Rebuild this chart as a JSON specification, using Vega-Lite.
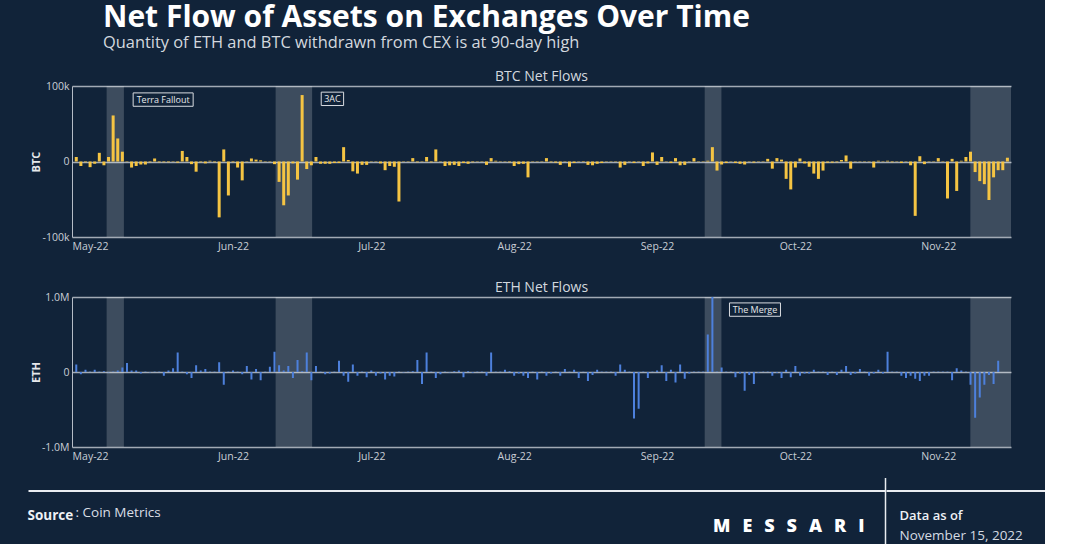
{
"$schema": "https://vega.github.io/schema/vega-lite/v6.json",
"background": "#112339",
"padding": {"left": 27, "top": 3, "right": 0, "bottom": 0},
"config": {
  "font": "Open Sans",
  "view": {"stroke": null},
  "scale": {"continuousPadding": 0},
  "axis": {"labelFont": "Open Sans", "titleFont": "Open Sans", "ticks": false},
  "title": {"font": "Open Sans", "subtitleFont": "Open Sans"}
},
"title": {
  "text": "Net Flow of Assets on Exchanges Over Time",
  "subtitle": "Quantity of ETH and BTC withdrawn from CEX is at 90-day high",
  "anchor": "start", "frame": "group", "dx": 75, "offset": 18.5,
  "fontSize": 30, "fontWeight": "bold", "color": "#ffffff",
  "subtitleFontSize": 16.4, "subtitleColor": "#d3d8df", "subtitleFontWeight": "normal", "subtitlePadding": 2
},
"datasets": {
  "events": [
    {"event": "Terra Fallout", "start": "2022-05-04T14:00:00Z", "end": "2022-05-08T08:00:00Z"},
    {"event": "3AC", "start": "2022-06-10T06:00:00Z", "end": "2022-06-18T04:00:00Z"},
    {"event": "The Merge", "start": "2022-09-11T08:00:00Z", "end": "2022-09-14T23:00:00Z"},
    {"event": "FTX Collapse", "start": "2022-11-07T23:00:00Z", "end": "2022-11-16T18:43:00Z"}
  ],
  "btcNotes": [
    {"label": "Terra Fallout", "date": "2022-05-16T20:24:00Z", "flow": 82000},
    {"label": "3AC", "date": "2022-06-22T13:40:00Z", "flow": 83000}
  ],
  "ethNotes": [
    {"label": "The Merge", "date": "2022-09-22T05:45:00Z", "flow": 832000}
  ],
  "btc": [
    {"date":"2022-04-28","flow":6000},{"date":"2022-04-29","flow":-6000},{"date":"2022-04-30","flow":-1000},
    {"date":"2022-05-01","flow":-7500},{"date":"2022-05-02","flow":-3000},{"date":"2022-05-03","flow":11500},{"date":"2022-05-04","flow":-5000},{"date":"2022-05-05","flow":6000},{"date":"2022-05-06","flow":61000},{"date":"2022-05-07","flow":30500},{"date":"2022-05-08","flow":13000},{"date":"2022-05-09","flow":500},{"date":"2022-05-10","flow":-8000},
    {"date":"2022-05-11","flow":-6000},{"date":"2022-05-12","flow":-4000},{"date":"2022-05-13","flow":-4000},{"date":"2022-05-14","flow":-1000},{"date":"2022-05-15","flow":4000},{"date":"2022-05-16","flow":-1000},{"date":"2022-05-17","flow":-1000},{"date":"2022-05-18","flow":-1000},{"date":"2022-05-19","flow":-500},{"date":"2022-05-20","flow":-1500},
    {"date":"2022-05-21","flow":14000},{"date":"2022-05-22","flow":6000},{"date":"2022-05-23","flow":-3500},{"date":"2022-05-24","flow":-13500},{"date":"2022-05-25","flow":-1000},{"date":"2022-05-26","flow":-2500},{"date":"2022-05-27","flow":1000},{"date":"2022-05-28","flow":-1000},{"date":"2022-05-29","flow":-74000},{"date":"2022-05-30","flow":16000},{"date":"2022-05-31","flow":-45000},
    {"date":"2022-06-01","flow":-1000},{"date":"2022-06-02","flow":-8000},{"date":"2022-06-03","flow":-25000},{"date":"2022-06-04","flow":-500},{"date":"2022-06-05","flow":4000},{"date":"2022-06-06","flow":2500},{"date":"2022-06-07","flow":1500},{"date":"2022-06-08","flow":-500},{"date":"2022-06-09","flow":-500},{"date":"2022-06-10","flow":-3500},
    {"date":"2022-06-11","flow":-27000},{"date":"2022-06-12","flow":-58000},{"date":"2022-06-13","flow":-45000},{"date":"2022-06-14","flow":-2500},{"date":"2022-06-15","flow":-24000},{"date":"2022-06-16","flow":88000},{"date":"2022-06-17","flow":-10000},{"date":"2022-06-18","flow":-5000},{"date":"2022-06-19","flow":6000},{"date":"2022-06-20","flow":-3000},
    {"date":"2022-06-21","flow":-3000},{"date":"2022-06-22","flow":-3000},{"date":"2022-06-23","flow":-2000},{"date":"2022-06-24","flow":-2000},{"date":"2022-06-25","flow":19000},{"date":"2022-06-26","flow":2000},{"date":"2022-06-27","flow":-13000},{"date":"2022-06-28","flow":-16000},{"date":"2022-06-29","flow":-4500},{"date":"2022-06-30","flow":-4500},
    {"date":"2022-07-01","flow":500},{"date":"2022-07-02","flow":-500},{"date":"2022-07-03","flow":-2500},{"date":"2022-07-04","flow":-11500},{"date":"2022-07-05","flow":-6000},{"date":"2022-07-06","flow":-7000},{"date":"2022-07-07","flow":-53000},{"date":"2022-07-08","flow":-500},{"date":"2022-07-09","flow":500},{"date":"2022-07-10","flow":4500},
    {"date":"2022-07-11","flow":-1000},{"date":"2022-07-12","flow":500},{"date":"2022-07-13","flow":6000},{"date":"2022-07-14","flow":-1000},{"date":"2022-07-15","flow":16000},{"date":"2022-07-16","flow":500},{"date":"2022-07-17","flow":-6000},{"date":"2022-07-18","flow":-5000},{"date":"2022-07-19","flow":-4500},{"date":"2022-07-20","flow":-6000},
    {"date":"2022-07-21","flow":-2000},{"date":"2022-07-22","flow":-3000},{"date":"2022-07-23","flow":-1000},{"date":"2022-07-24","flow":500},{"date":"2022-07-25","flow":-500},{"date":"2022-07-26","flow":-4500},{"date":"2022-07-27","flow":4500},{"date":"2022-07-28","flow":1000},{"date":"2022-07-29","flow":500},{"date":"2022-07-30","flow":-500},{"date":"2022-07-31","flow":-1000},
    {"date":"2022-08-01","flow":-6000},{"date":"2022-08-02","flow":-3500},{"date":"2022-08-03","flow":-3000},{"date":"2022-08-04","flow":-21000},{"date":"2022-08-05","flow":-500},{"date":"2022-08-06","flow":500},{"date":"2022-08-07","flow":500},{"date":"2022-08-08","flow":4500},{"date":"2022-08-09","flow":-1000},{"date":"2022-08-10","flow":-1500},
    {"date":"2022-08-11","flow":-4500},{"date":"2022-08-12","flow":500},{"date":"2022-08-13","flow":-7000},{"date":"2022-08-14","flow":-2000},{"date":"2022-08-15","flow":500},{"date":"2022-08-16","flow":-500},{"date":"2022-08-17","flow":-4500},{"date":"2022-08-18","flow":-5000},{"date":"2022-08-19","flow":-3000},{"date":"2022-08-20","flow":-2000},
    {"date":"2022-08-21","flow":500},{"date":"2022-08-22","flow":-500},{"date":"2022-08-23","flow":500},{"date":"2022-08-24","flow":-8000},{"date":"2022-08-25","flow":-4500},{"date":"2022-08-26","flow":500},{"date":"2022-08-27","flow":-2000},{"date":"2022-08-28","flow":500},{"date":"2022-08-29","flow":-6000},{"date":"2022-08-30","flow":-2500},{"date":"2022-08-31","flow":12000},
    {"date":"2022-09-01","flow":-4500},{"date":"2022-09-02","flow":6000},{"date":"2022-09-03","flow":500},{"date":"2022-09-04","flow":-2000},{"date":"2022-09-05","flow":4500},{"date":"2022-09-06","flow":-5000},{"date":"2022-09-07","flow":-4500},{"date":"2022-09-08","flow":500},{"date":"2022-09-09","flow":4500},{"date":"2022-09-10","flow":500},
    {"date":"2022-09-11","flow":-500},{"date":"2022-09-12","flow":1000},{"date":"2022-09-13","flow":19000},{"date":"2022-09-14","flow":-12000},{"date":"2022-09-15","flow":-4000},{"date":"2022-09-16","flow":-2000},{"date":"2022-09-17","flow":500},{"date":"2022-09-18","flow":-2000},{"date":"2022-09-19","flow":-3000},{"date":"2022-09-20","flow":-4000},
    {"date":"2022-09-21","flow":500},{"date":"2022-09-22","flow":-1500},{"date":"2022-09-23","flow":500},{"date":"2022-09-24","flow":500},{"date":"2022-09-25","flow":3500},{"date":"2022-09-26","flow":-9500},{"date":"2022-09-27","flow":4500},{"date":"2022-09-28","flow":2500},{"date":"2022-09-29","flow":-23000},{"date":"2022-09-30","flow":-37000},
    {"date":"2022-10-01","flow":-8000},{"date":"2022-10-02","flow":4000},{"date":"2022-10-03","flow":-2500},{"date":"2022-10-04","flow":-7000},{"date":"2022-10-05","flow":-16000},{"date":"2022-10-06","flow":-23000},{"date":"2022-10-07","flow":-12000},{"date":"2022-10-08","flow":-1500},{"date":"2022-10-09","flow":-1500},{"date":"2022-10-10","flow":-1000},
    {"date":"2022-10-11","flow":2000},{"date":"2022-10-12","flow":8000},{"date":"2022-10-13","flow":-9500},{"date":"2022-10-14","flow":500},{"date":"2022-10-15","flow":-500},{"date":"2022-10-16","flow":500},{"date":"2022-10-17","flow":-500},{"date":"2022-10-18","flow":-8000},{"date":"2022-10-19","flow":1000},{"date":"2022-10-20","flow":500},
    {"date":"2022-10-21","flow":1000},{"date":"2022-10-22","flow":-1000},{"date":"2022-10-23","flow":500},{"date":"2022-10-24","flow":-2000},{"date":"2022-10-25","flow":500},{"date":"2022-10-26","flow":-5000},{"date":"2022-10-27","flow":-72000},{"date":"2022-10-28","flow":7000},{"date":"2022-10-29","flow":-3500},{"date":"2022-10-30","flow":500},{"date":"2022-10-31","flow":-500},
    {"date":"2022-11-01","flow":4500},{"date":"2022-11-02","flow":500},{"date":"2022-11-03","flow":-49000},{"date":"2022-11-04","flow":3500},{"date":"2022-11-05","flow":-39000},{"date":"2022-11-06","flow":1000},{"date":"2022-11-07","flow":6000},{"date":"2022-11-08","flow":13000},{"date":"2022-11-09","flow":-14000},{"date":"2022-11-10","flow":-26000},
    {"date":"2022-11-11","flow":-30000},{"date":"2022-11-12","flow":-51000},{"date":"2022-11-13","flow":-21000},{"date":"2022-11-14","flow":-11500},{"date":"2022-11-15","flow":-11500},{"date":"2022-11-16","flow":5000}
  ],
  "eth": [
    {"date":"2022-04-28","flow":100000},{"date":"2022-04-29","flow":-30000},{"date":"2022-04-30","flow":30000},
    {"date":"2022-05-01","flow":5000},{"date":"2022-05-02","flow":30000},{"date":"2022-05-03","flow":5000},{"date":"2022-05-04","flow":10000},{"date":"2022-05-05","flow":-5000},{"date":"2022-05-06","flow":5000},{"date":"2022-05-07","flow":20000},{"date":"2022-05-08","flow":60000},{"date":"2022-05-09","flow":120000},{"date":"2022-05-10","flow":20000},
    {"date":"2022-05-11","flow":20000},{"date":"2022-05-12","flow":-20000},{"date":"2022-05-13","flow":5000},{"date":"2022-05-14","flow":-5000},{"date":"2022-05-15","flow":5000},{"date":"2022-05-16","flow":5000},{"date":"2022-05-17","flow":-50000},{"date":"2022-05-18","flow":20000},{"date":"2022-05-19","flow":50000},{"date":"2022-05-20","flow":260000},
    {"date":"2022-05-21","flow":5000},{"date":"2022-05-22","flow":-30000},{"date":"2022-05-23","flow":-80000},{"date":"2022-05-24","flow":90000},{"date":"2022-05-25","flow":20000},{"date":"2022-05-26","flow":40000},{"date":"2022-05-27","flow":5000},{"date":"2022-05-28","flow":5000},{"date":"2022-05-29","flow":130000},{"date":"2022-05-30","flow":-170000},{"date":"2022-05-31","flow":5000},
    {"date":"2022-06-01","flow":20000},{"date":"2022-06-02","flow":5000},{"date":"2022-06-03","flow":-30000},{"date":"2022-06-04","flow":80000},{"date":"2022-06-05","flow":-100000},{"date":"2022-06-06","flow":40000},{"date":"2022-06-07","flow":-110000},{"date":"2022-06-08","flow":5000},{"date":"2022-06-09","flow":70000},{"date":"2022-06-10","flow":270000},
    {"date":"2022-06-11","flow":90000},{"date":"2022-06-12","flow":20000},{"date":"2022-06-13","flow":80000},{"date":"2022-06-14","flow":-80000},{"date":"2022-06-15","flow":160000},{"date":"2022-06-16","flow":10000},{"date":"2022-06-17","flow":260000},{"date":"2022-06-18","flow":-110000},{"date":"2022-06-19","flow":80000},{"date":"2022-06-20","flow":5000},
    {"date":"2022-06-21","flow":-30000},{"date":"2022-06-22","flow":-20000},{"date":"2022-06-23","flow":5000},{"date":"2022-06-24","flow":150000},{"date":"2022-06-25","flow":-50000},{"date":"2022-06-26","flow":-130000},{"date":"2022-06-27","flow":100000},{"date":"2022-06-28","flow":-50000},{"date":"2022-06-29","flow":5000},{"date":"2022-06-30","flow":-70000},
    {"date":"2022-07-01","flow":20000},{"date":"2022-07-02","flow":-50000},{"date":"2022-07-03","flow":-20000},{"date":"2022-07-04","flow":-100000},{"date":"2022-07-05","flow":-50000},{"date":"2022-07-06","flow":-60000},{"date":"2022-07-07","flow":5000},{"date":"2022-07-08","flow":-5000},{"date":"2022-07-09","flow":5000},{"date":"2022-07-10","flow":10000},
    {"date":"2022-07-11","flow":160000},{"date":"2022-07-12","flow":-160000},{"date":"2022-07-13","flow":260000},{"date":"2022-07-14","flow":5000},{"date":"2022-07-15","flow":-80000},{"date":"2022-07-16","flow":-30000},{"date":"2022-07-17","flow":5000},{"date":"2022-07-18","flow":-5000},{"date":"2022-07-19","flow":10000},{"date":"2022-07-20","flow":20000},
    {"date":"2022-07-21","flow":-70000},{"date":"2022-07-22","flow":10000},{"date":"2022-07-23","flow":-10000},{"date":"2022-07-24","flow":5000},{"date":"2022-07-25","flow":5000},{"date":"2022-07-26","flow":-50000},{"date":"2022-07-27","flow":260000},{"date":"2022-07-28","flow":5000},{"date":"2022-07-29","flow":5000},{"date":"2022-07-30","flow":30000},{"date":"2022-07-31","flow":10000},
    {"date":"2022-08-01","flow":-50000},{"date":"2022-08-02","flow":-20000},{"date":"2022-08-03","flow":-50000},{"date":"2022-08-04","flow":-80000},{"date":"2022-08-05","flow":5000},{"date":"2022-08-06","flow":-100000},{"date":"2022-08-07","flow":5000},{"date":"2022-08-08","flow":-50000},{"date":"2022-08-09","flow":-20000},{"date":"2022-08-10","flow":5000},
    {"date":"2022-08-11","flow":-50000},{"date":"2022-08-12","flow":40000},{"date":"2022-08-13","flow":5000},{"date":"2022-08-14","flow":30000},{"date":"2022-08-15","flow":-80000},{"date":"2022-08-16","flow":5000},{"date":"2022-08-17","flow":-120000},{"date":"2022-08-18","flow":-40000},{"date":"2022-08-19","flow":30000},{"date":"2022-08-20","flow":5000},
    {"date":"2022-08-21","flow":5000},{"date":"2022-08-22","flow":5000},{"date":"2022-08-23","flow":-50000},{"date":"2022-08-24","flow":100000},{"date":"2022-08-25","flow":30000},{"date":"2022-08-26","flow":5000},{"date":"2022-08-27","flow":-620000},{"date":"2022-08-28","flow":-490000},{"date":"2022-08-29","flow":5000},{"date":"2022-08-30","flow":-80000},{"date":"2022-08-31","flow":5000},
    {"date":"2022-09-01","flow":20000},{"date":"2022-09-02","flow":90000},{"date":"2022-09-03","flow":-120000},{"date":"2022-09-04","flow":30000},{"date":"2022-09-05","flow":-140000},{"date":"2022-09-06","flow":100000},{"date":"2022-09-07","flow":-90000},{"date":"2022-09-08","flow":-20000},{"date":"2022-09-09","flow":5000},{"date":"2022-09-10","flow":5000},
    {"date":"2022-09-11","flow":5000},{"date":"2022-09-12","flow":500000},{"date":"2022-09-13","flow":1000000},{"date":"2022-09-14","flow":5000},{"date":"2022-09-15","flow":60000},{"date":"2022-09-16","flow":5000},{"date":"2022-09-17","flow":5000},{"date":"2022-09-18","flow":-70000},{"date":"2022-09-19","flow":-20000},{"date":"2022-09-20","flow":-250000},
    {"date":"2022-09-21","flow":-40000},{"date":"2022-09-22","flow":-160000},{"date":"2022-09-23","flow":-10000},{"date":"2022-09-24","flow":5000},{"date":"2022-09-25","flow":5000},{"date":"2022-09-26","flow":-50000},{"date":"2022-09-27","flow":-10000},{"date":"2022-09-28","flow":-80000},{"date":"2022-09-29","flow":30000},{"date":"2022-09-30","flow":-70000},
    {"date":"2022-10-01","flow":80000},{"date":"2022-10-02","flow":-50000},{"date":"2022-10-03","flow":-20000},{"date":"2022-10-04","flow":-20000},{"date":"2022-10-05","flow":30000},{"date":"2022-10-06","flow":5000},{"date":"2022-10-07","flow":5000},{"date":"2022-10-08","flow":-40000},{"date":"2022-10-09","flow":5000},{"date":"2022-10-10","flow":-40000},
    {"date":"2022-10-11","flow":30000},{"date":"2022-10-12","flow":80000},{"date":"2022-10-13","flow":-40000},{"date":"2022-10-14","flow":-20000},{"date":"2022-10-15","flow":40000},{"date":"2022-10-16","flow":5000},{"date":"2022-10-17","flow":-50000},{"date":"2022-10-18","flow":-20000},{"date":"2022-10-19","flow":30000},{"date":"2022-10-20","flow":-20000},
    {"date":"2022-10-21","flow":270000},{"date":"2022-10-22","flow":5000},{"date":"2022-10-23","flow":5000},{"date":"2022-10-24","flow":-50000},{"date":"2022-10-25","flow":-80000},{"date":"2022-10-26","flow":-50000},{"date":"2022-10-27","flow":-90000},{"date":"2022-10-28","flow":-120000},{"date":"2022-10-29","flow":-50000},{"date":"2022-10-30","flow":-50000},{"date":"2022-10-31","flow":5000},
    {"date":"2022-11-01","flow":5000},{"date":"2022-11-02","flow":5000},{"date":"2022-11-03","flow":5000},{"date":"2022-11-04","flow":-110000},{"date":"2022-11-05","flow":50000},{"date":"2022-11-06","flow":20000},{"date":"2022-11-07","flow":5000},{"date":"2022-11-08","flow":-170000},{"date":"2022-11-09","flow":-610000},{"date":"2022-11-10","flow":-340000},
    {"date":"2022-11-11","flow":-170000},{"date":"2022-11-12","flow":-40000},{"date":"2022-11-13","flow":-160000},{"date":"2022-11-14","flow":150000}
  ]
},
"vconcat": [
  {
    "spacing": 0,
    "hconcat": [
      {"width": 2, "height": 1, "data": {"values": [{}]}, "mark": {"type": "point", "opacity": 0, "size": 1}},
      {
        "spacing": 28,
        "vconcat": [
          {
            "width": 939, "height": 151,
            "title": {"text": "BTC Net Flows", "fontSize": 14, "fontWeight": "normal", "color": "#d3d8df", "offset": -3, "anchor": "middle"},
            "layer": [
              {"data": {"name": "events"}, "mark": {"type": "rect", "color": "#ffffff", "opacity": 0.19},
               "encoding": {"x": {"field": "start", "type": "temporal", "title": null, "scale": {"type": "utc", "padding": 0, "domain": [{"year": 2022, "month": 4, "date": 27, "hours": 1, "minutes": 48, "utc": true}, {"year": 2022, "month": 11, "date": 16, "hours": 18, "minutes": 43, "utc": true}]}}, "x2": {"field": "end"}}},
              {"data": {"name": "btc"}, "mark": {"type": "bar", "orient": "vertical", "size": 3, "color": "#f5c443"},
               "encoding": {
                 "x": {"field": "date", "type": "temporal", "title": null,
                       "scale": {"type": "utc", "padding": 0, "domain": [{"year": 2022, "month": 4, "date": 27, "hours": 1, "minutes": 48, "utc": true}, {"year": 2022, "month": 11, "date": 16, "hours": 18, "minutes": 43, "utc": true}]},
                       "axis": {"values": [{"year": 2022, "month": 5, "date": 1, "utc": true}, {"year": 2022, "month": 6, "date": 1, "utc": true}, {"year": 2022, "month": 7, "date": 1, "utc": true}, {"year": 2022, "month": 8, "date": 1, "utc": true}, {"year": 2022, "month": 9, "date": 1, "utc": true}, {"year": 2022, "month": 10, "date": 1, "utc": true}, {"year": 2022, "month": 11, "date": 1, "utc": true}],
                                "format": "%b-%y", "labelColor": "#c9ced6", "labelFontSize": 10.5, "labelPadding": 4, "domain": false, "grid": false, "ticks": false}},
                 "y": {"field": "flow", "type": "quantitative", "title": "BTC",
                       "scale": {"domain": [-100000, 100000], "nice": false},
                       "axis": {"values": [-100000, -50000, 0, 50000, 100000], "labelExpr": "datum.value == 0 ? '0' : (datum.value / 1000) + 'k'",
                                "labelColor": "#c9ced6", "labelFontSize": 10.5, "labelPadding": 3, "domain": true, "domainColor": "#b5bcc6", "domainWidth": 1,
                                "grid": true, "gridColor": "#c7ccd4", "gridOpacity": 0.8, "gridWidth": 1.3, "minExtent": 30, "maxExtent": 30, "titlePadding": 1,
                                "titleColor": "#e6e8eb", "titleFontSize": 11, "titleFontWeight": "bold"}}}},
              {"data": {"name": "btcNotes"}, "transform": [{"filter": "datum.label === 'Terra Fallout'"}],
               "mark": {"type": "point", "shape": "M-1,-0.223H1V0.223H-1Z", "size": 3600, "filled": false, "stroke": "#d9dce1", "strokeWidth": 1, "opacity": 1},
               "encoding": {"x": {"field": "date", "type": "temporal", "title": null}, "y": {"field": "flow", "type": "quantitative", "title": "BTC"}}},
              {"data": {"name": "btcNotes"}, "transform": [{"filter": "datum.label === '3AC'"}],
               "mark": {"type": "point", "shape": "M-0.373,-0.223H0.373V0.223H-0.373Z", "size": 3600, "filled": false, "stroke": "#d9dce1", "strokeWidth": 1, "opacity": 1},
               "encoding": {"x": {"field": "date", "type": "temporal", "title": null}, "y": {"field": "flow", "type": "quantitative", "title": "BTC"}}},
              {"data": {"name": "btcNotes"},
               "mark": {"type": "text", "fontSize": 9, "color": "#e6e8eb", "font": "Open Sans"},
               "encoding": {"x": {"field": "date", "type": "temporal", "title": null}, "y": {"field": "flow", "type": "quantitative", "title": "BTC"}, "text": {"field": "label"}}}
            ]
          },
          {
            "width": 939, "height": 150,
            "title": {"text": "ETH Net Flows", "fontSize": 14, "fontWeight": "normal", "color": "#d3d8df", "offset": -2.5, "anchor": "middle"},
            "layer": [
              {"data": {"name": "events"}, "mark": {"type": "rect", "color": "#ffffff", "opacity": 0.19},
               "encoding": {"x": {"field": "start", "type": "temporal", "title": null, "scale": {"type": "utc", "padding": 0, "domain": [{"year": 2022, "month": 4, "date": 27, "hours": 1, "minutes": 48, "utc": true}, {"year": 2022, "month": 11, "date": 16, "hours": 18, "minutes": 43, "utc": true}]}}, "x2": {"field": "end"}}},
              {"data": {"name": "eth"}, "mark": {"type": "bar", "orient": "vertical", "size": 2, "color": "#4d80dc", "clip": true},
               "encoding": {
                 "x": {"field": "date", "type": "temporal", "title": null,
                       "scale": {"type": "utc", "padding": 0, "domain": [{"year": 2022, "month": 4, "date": 27, "hours": 1, "minutes": 48, "utc": true}, {"year": 2022, "month": 11, "date": 16, "hours": 18, "minutes": 43, "utc": true}]},
                       "axis": {"values": [{"year": 2022, "month": 5, "date": 1, "utc": true}, {"year": 2022, "month": 6, "date": 1, "utc": true}, {"year": 2022, "month": 7, "date": 1, "utc": true}, {"year": 2022, "month": 8, "date": 1, "utc": true}, {"year": 2022, "month": 9, "date": 1, "utc": true}, {"year": 2022, "month": 10, "date": 1, "utc": true}, {"year": 2022, "month": 11, "date": 1, "utc": true}],
                                "format": "%b-%y", "labelColor": "#c9ced6", "labelFontSize": 10.5, "labelPadding": 4, "domain": false, "grid": false, "ticks": false}},
                 "y": {"field": "flow", "type": "quantitative", "title": "ETH",
                       "scale": {"domain": [-1000000, 1000000], "nice": false},
                       "axis": {"values": [-1000000, -500000, 0, 500000, 1000000], "labelExpr": "datum.value == 0 ? '0' : (datum.value < 0 ? '-' : '') + format(abs(datum.value) / 1000000, '.1f') + 'M'",
                                "labelColor": "#c9ced6", "labelFontSize": 10.5, "labelPadding": 3, "domain": true, "domainColor": "#b5bcc6", "domainWidth": 1,
                                "grid": true, "gridColor": "#c7ccd4", "gridOpacity": 0.8, "gridWidth": 1.3, "minExtent": 30, "maxExtent": 30, "titlePadding": 1,
                                "titleColor": "#e6e8eb", "titleFontSize": 11, "titleFontWeight": "bold"}}}},
              {"data": {"name": "ethNotes"},
               "mark": {"type": "point", "shape": "M-0.85,-0.223H0.85V0.223H-0.85Z", "size": 3600, "filled": false, "stroke": "#d9dce1", "strokeWidth": 1, "opacity": 1},
               "encoding": {"x": {"field": "date", "type": "temporal", "title": null}, "y": {"field": "flow", "type": "quantitative", "title": "ETH"}}},
              {"data": {"name": "ethNotes"},
               "mark": {"type": "text", "fontSize": 9, "color": "#e6e8eb", "font": "Open Sans"},
               "encoding": {"x": {"field": "date", "type": "temporal", "title": null}, "y": {"field": "flow", "type": "quantitative", "title": "ETH"}, "text": {"field": "label"}}}
            ]
          }
        ]
      }
    ]
  },
  {
    "spacing": 0,
    "hconcat": [
      {
        "width": 857, "height": 66,
        "data": {"values": [{}]},
        "title": {"text": "Source", "anchor": "start", "orient": "top", "offset": 0, "dy": 45, "fontSize": 13.5, "fontWeight": "bold", "color": "#eef1f5"},
        "mark": {"type": "point", "opacity": 0, "size": 1},
        "encoding": {
          "x": {"datum": 0, "type": "quantitative",
                "axis": {"orient": "top", "offset": -13, "labels": false, "grid": false, "ticks": false, "domain": true, "domainColor": "#e9ecf1", "domainWidth": 2,
                         "title": "M\u2002\u2009E\u2002\u2009S\u2002\u2009S\u2002\u2009A\u2002\u2009R\u2002\u2009I", "titleX": 836, "titleY": 36, "titleAlign": "right", "titleBaseline": "middle",
                         "titleFontSize": 18, "titleFontWeight": 800, "titleColor": "#ffffff"}},
          "y": {"datum": 0, "type": "quantitative",
                "axis": {"orient": "right", "labels": false, "grid": false, "ticks": false, "domain": true, "domainColor": "#e9ecf1", "domainWidth": 1.5,
                         "title": ": Coin Metrics", "titleAngle": 0, "titleX": -810, "titleY": 35, "titleAlign": "left", "titleBaseline": "middle",
                         "titleFontSize": 13.5, "titleFontWeight": "normal", "titleColor": "#d9dee5"}}
        }
      },
      {
        "width": 159, "height": 66,
        "data": {"values": [{}]},
        "mark": {"type": "point", "opacity": 0, "size": 1},
        "encoding": {
          "x": {"datum": 0, "type": "quantitative",
                "axis": {"orient": "top", "offset": -13, "labels": false, "grid": false, "ticks": false, "domain": true, "domainColor": "#e9ecf1", "domainWidth": 2,
                         "title": "Data as of", "titleX": 13, "titleY": 25, "titleAlign": "left", "titleBaseline": "middle",
                         "titleFontSize": 13, "titleFontWeight": 600, "titleColor": "#eef1f5"}},
          "y": {"datum": 0, "type": "quantitative",
                "axis": {"orient": "left", "labels": false, "grid": false, "ticks": false, "domain": false,
                         "title": "November 15, 2022", "titleAngle": 0, "titleX": 13, "titleY": 58, "titleAlign": "left", "titleBaseline": "middle",
                         "titleFontSize": 13.5, "titleFontWeight": "normal", "titleColor": "#d4dae2"}}
        }
      }
    ]
  }
],
"spacing": 14.5
}
